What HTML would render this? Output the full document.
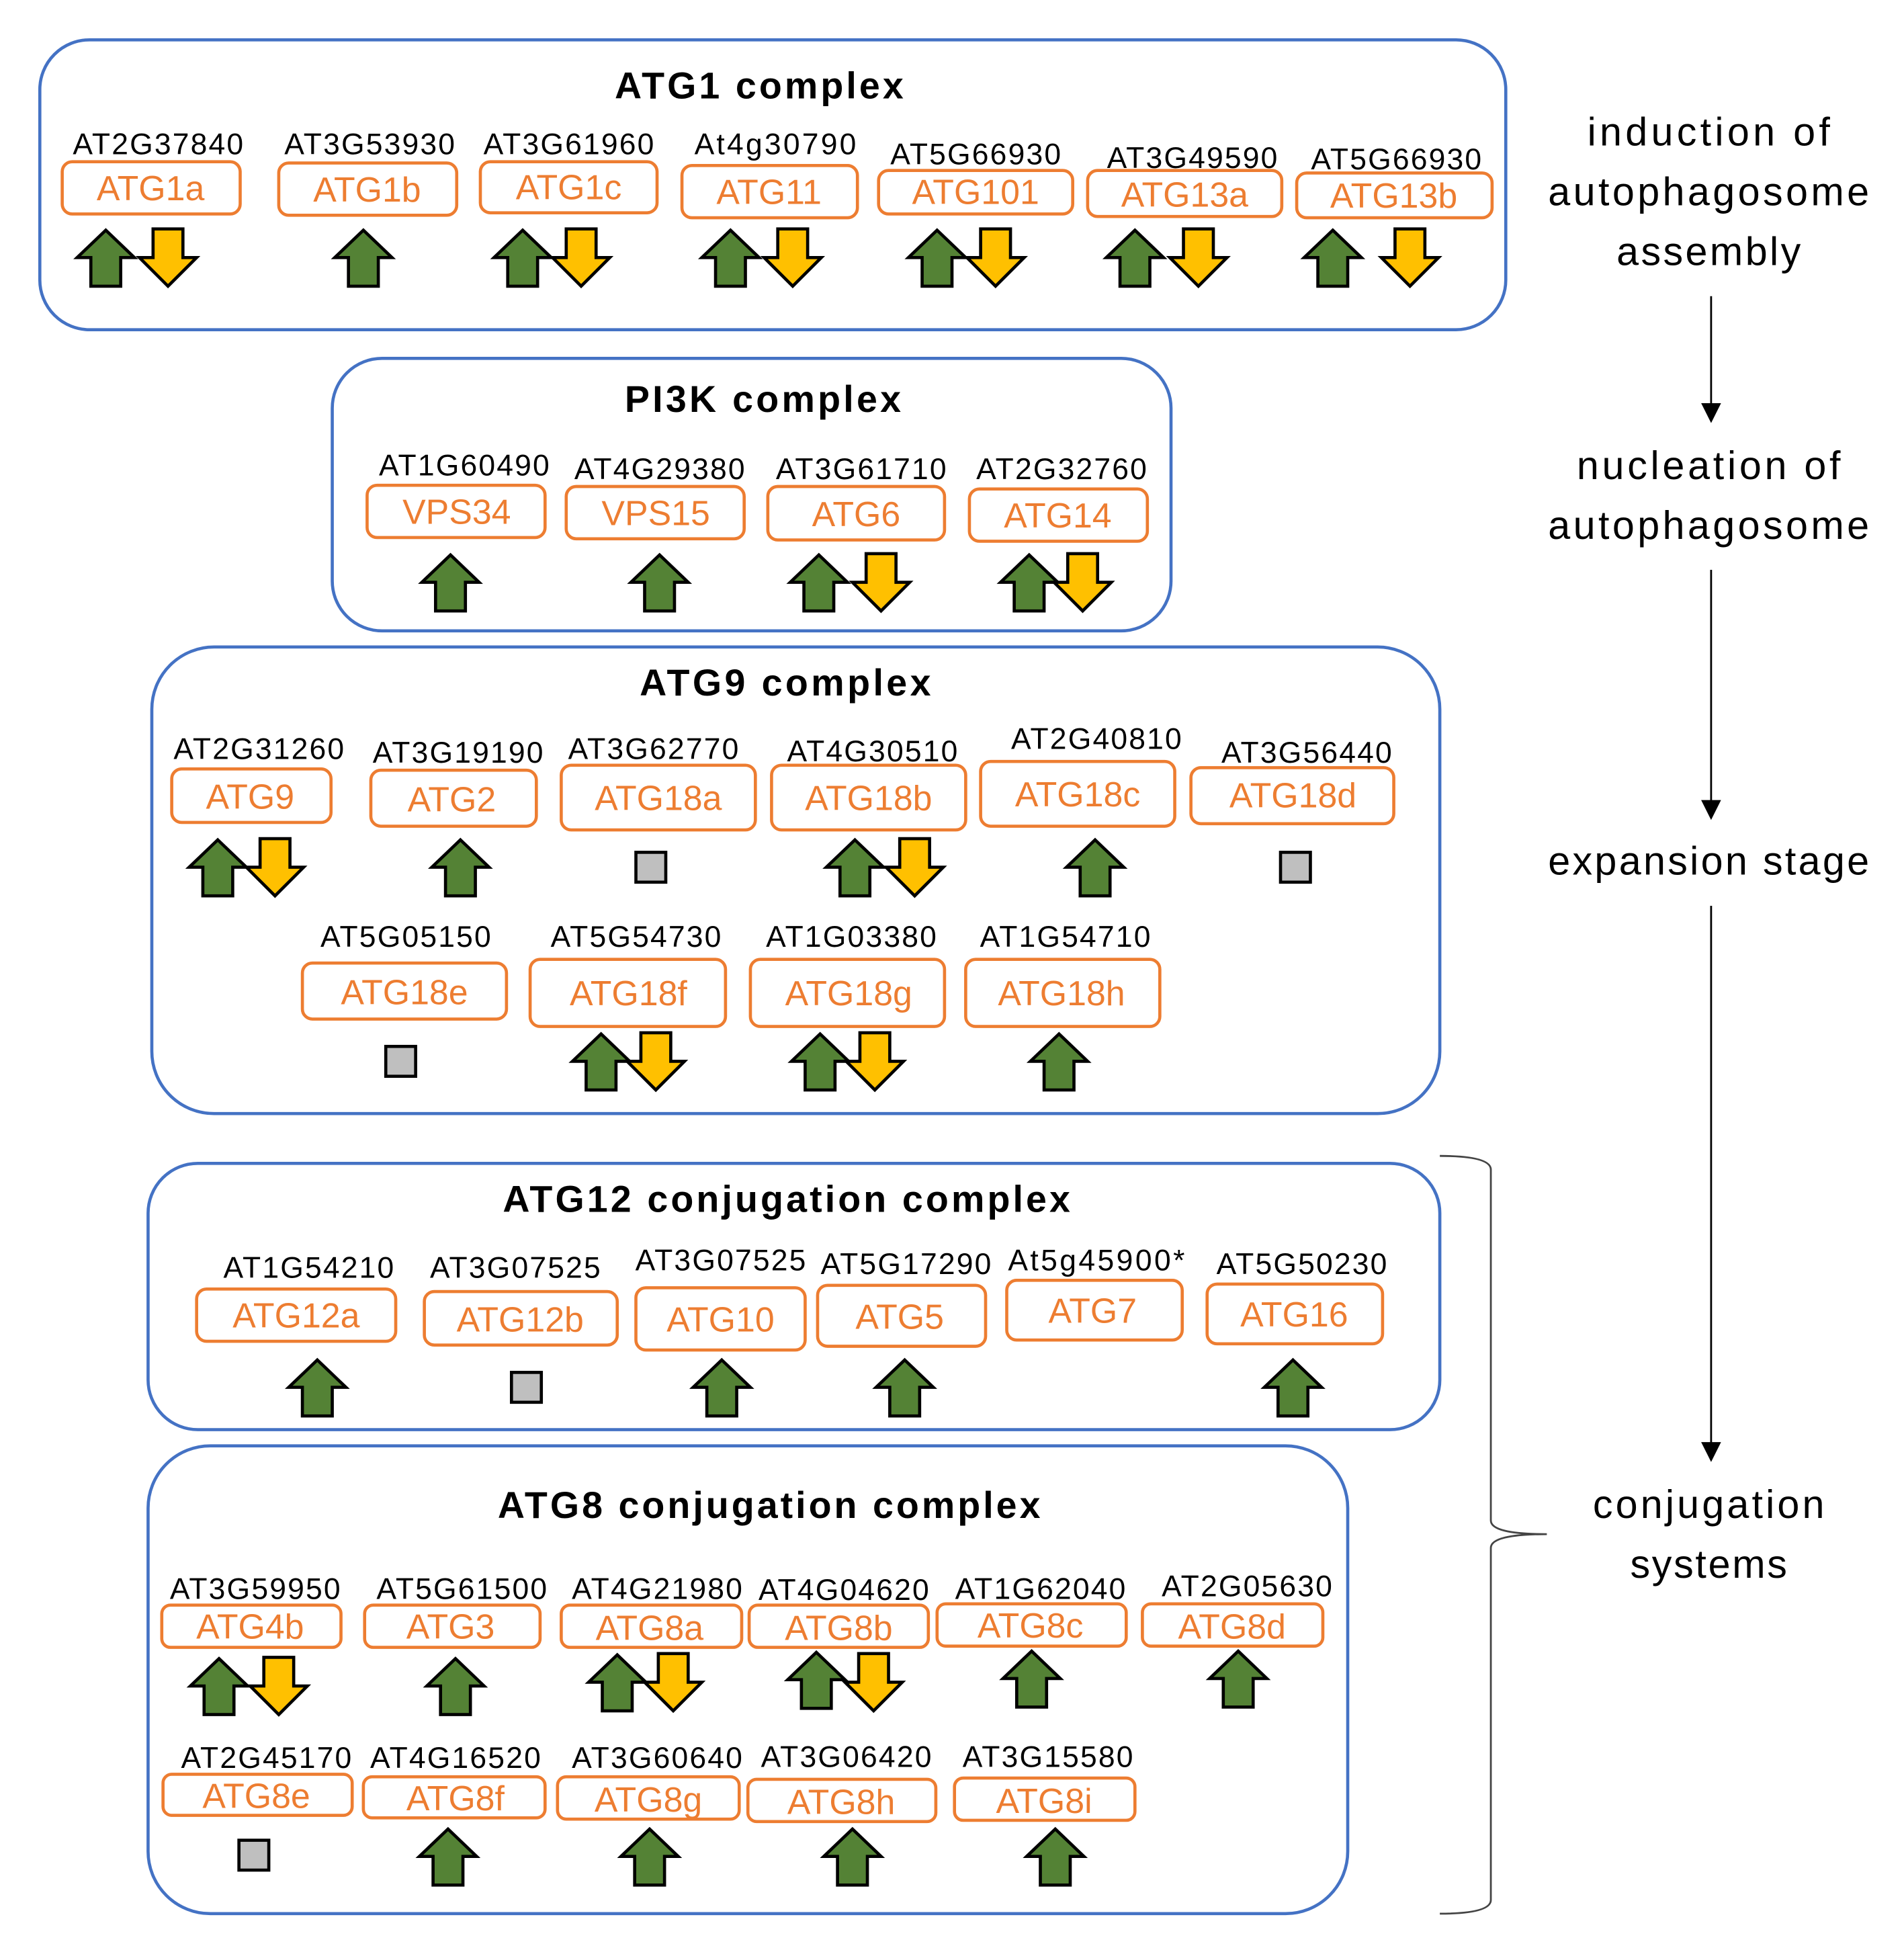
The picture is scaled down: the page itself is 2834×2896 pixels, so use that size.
<!DOCTYPE html>
<html><head><meta charset="utf-8"><style>
html,body{margin:0;padding:0;background:#fff;}
svg{display:block;}
.g{font-family:"Liberation Sans",sans-serif;font-size:24px;fill:#000;text-anchor:middle;}
.o{font-family:"Liberation Sans",sans-serif;font-size:28px;fill:#ED7D31;text-anchor:middle;}
.t{font-family:"Liberation Sans",sans-serif;font-size:30px;font-weight:bold;fill:#000;text-anchor:middle;}
.r{font-family:"Liberation Sans",sans-serif;font-size:32px;fill:#000;text-anchor:middle;}
.cx{fill:#fff;stroke:#4472C4;stroke-width:2.5;}
.ob{fill:#fff;stroke:#ED7D31;stroke-width:2.5;}
.up{fill:#548235;stroke:#000;stroke-width:2.5;}
.dn{fill:#FFC000;stroke:#000;stroke-width:2.5;}
.sq{fill:#BFBFBF;stroke:#000;stroke-width:2.5;}
</style></head><body>
<svg width="2834" height="2896" viewBox="0 0 1530 1564" preserveAspectRatio="none" xmlns="http://www.w3.org/2000/svg">
<defs>
<polygon id="U" class="up" points="0,0 23,22 12,22 12,45 -12,45 -12,22 -23,22"/>
<polygon id="D" class="dn" points="-12,0 12,0 12,23 23,23 0,46 -23,23 -12,23"/>
<rect id="S" class="sq" x="-12" y="-12" width="24" height="24"/>
<marker id="ah" markerWidth="16" markerHeight="16" refX="14" refY="8" orient="auto" markerUnits="userSpaceOnUse"><path d="M0,0 L16,8 L0,16 z" fill="#000"/></marker>
</defs>

<!-- ATG1 complex -->
<rect class="cx" x="32" y="32" width="1178" height="233" rx="40"/>
<text class="t" x="610" y="79" textLength="232">ATG1 complex</text>
<text class="g" x="127" y="124" textLength="137">AT2G37840</text>
<rect class="ob" x="50" y="130" width="143" height="42" rx="8"/><text class="o" x="121" y="161">ATG1a</text>
<text class="g" x="297" y="124" textLength="137">AT3G53930</text>
<rect class="ob" x="224" y="131" width="143" height="42" rx="8"/><text class="o" x="295" y="162">ATG1b</text>
<text class="g" x="457" y="124" textLength="137">AT3G61960</text>
<rect class="ob" x="386" y="130" width="142" height="41" rx="8"/><text class="o" x="457" y="160">ATG1c</text>
<text class="g" x="623" y="124" textLength="130">At4g30790</text>
<rect class="ob" x="548" y="133" width="141" height="42" rx="8"/><text class="o" x="618" y="164">ATG11</text>
<text class="g" x="784" y="132" textLength="137">AT5G66930</text>
<rect class="ob" x="706" y="137" width="156" height="35" rx="8"/><text class="o" x="784" y="164">ATG101</text>
<text class="g" x="958" y="135" textLength="137">AT3G49590</text>
<rect class="ob" x="874" y="137" width="156" height="37" rx="8"/><text class="o" x="952" y="166">ATG13a</text>
<text class="g" x="1122" y="136" textLength="137">AT5G66930</text>
<rect class="ob" x="1042" y="139" width="157" height="36" rx="8"/><text class="o" x="1120" y="167">ATG13b</text>
<use href="#U" x="85" y="185"/><use href="#D" x="135" y="184"/>
<use href="#U" x="292" y="185"/>
<use href="#U" x="420" y="185"/><use href="#D" x="467" y="184"/>
<use href="#U" x="587" y="185"/><use href="#D" x="637" y="184"/>
<use href="#U" x="753" y="185"/><use href="#D" x="800" y="184"/>
<use href="#U" x="912" y="185"/><use href="#D" x="963" y="184"/>
<use href="#U" x="1071" y="185"/><use href="#D" x="1133" y="184"/>

<!-- PI3K -->
<rect class="cx" x="267" y="288" width="674" height="219" rx="40"/>
<text class="t" x="613" y="331" textLength="222">PI3K complex</text>
<text class="g" x="373" y="382" textLength="137">AT1G60490</text>
<rect class="ob" x="295" y="390" width="143" height="42" rx="8"/><text class="o" x="367" y="421">VPS34</text>
<text class="g" x="530" y="385" textLength="137">AT4G29380</text>
<rect class="ob" x="455" y="391" width="143" height="42" rx="8"/><text class="o" x="527" y="422">VPS15</text>
<text class="g" x="692" y="385" textLength="137">AT3G61710</text>
<rect class="ob" x="617" y="391" width="142" height="43" rx="8"/><text class="o" x="688" y="423">ATG6</text>
<text class="g" x="853" y="385" textLength="137">AT2G32760</text>
<rect class="ob" x="779" y="393" width="143" height="42" rx="8"/><text class="o" x="850" y="424">ATG14</text>
<use href="#U" x="362" y="446"/>
<use href="#U" x="530" y="446"/>
<use href="#U" x="658" y="446"/><use href="#D" x="708" y="445"/>
<use href="#U" x="827" y="446"/><use href="#D" x="870" y="445"/>

<!-- ATG9 -->
<rect class="cx" x="122" y="520" width="1035" height="375" rx="50"/>
<text class="t" x="631" y="559" textLength="234">ATG9 complex</text>
<text class="g" x="208" y="610" textLength="137">AT2G31260</text>
<rect class="ob" x="138" y="618" width="128" height="43" rx="8"/><text class="o" x="201" y="650">ATG9</text>
<text class="g" x="368" y="613" textLength="137">AT3G19190</text>
<rect class="ob" x="298" y="619" width="133" height="45" rx="8"/><text class="o" x="363" y="652">ATG2</text>
<text class="g" x="525" y="610" textLength="137">AT3G62770</text>
<rect class="ob" x="451" y="615" width="156" height="52" rx="8"/><text class="o" x="529" y="651">ATG18a</text>
<text class="g" x="701" y="612" textLength="137">AT4G30510</text>
<rect class="ob" x="620" y="615" width="156" height="52" rx="8"/><text class="o" x="698" y="651">ATG18b</text>
<text class="g" x="881" y="602" textLength="137">AT2G40810</text>
<rect class="ob" x="788" y="612" width="156" height="52" rx="8"/><text class="o" x="866" y="648">ATG18c</text>
<text class="g" x="1050" y="613" textLength="137">AT3G56440</text>
<rect class="ob" x="957" y="617" width="163" height="45" rx="8"/><text class="o" x="1039" y="649">ATG18d</text>
<use href="#U" x="175" y="675"/><use href="#D" x="221" y="674"/>
<use href="#U" x="370" y="675"/>
<use href="#S" x="523" y="697"/>
<use href="#U" x="687" y="675"/><use href="#D" x="735" y="674"/>
<use href="#U" x="880" y="675"/>
<use href="#S" x="1041" y="697"/>
<text class="g" x="326" y="761" textLength="137">AT5G05150</text>
<rect class="ob" x="243" y="774" width="164" height="45" rx="8"/><text class="o" x="325" y="807">ATG18e</text>
<text class="g" x="511" y="761" textLength="137">AT5G54730</text>
<rect class="ob" x="426" y="771" width="157" height="54" rx="8"/><text class="o" x="505" y="808">ATG18f</text>
<text class="g" x="684" y="761" textLength="137">AT1G03380</text>
<rect class="ob" x="603" y="771" width="156" height="54" rx="8"/><text class="o" x="682" y="808">ATG18g</text>
<text class="g" x="856" y="761" textLength="137">AT1G54710</text>
<rect class="ob" x="776" y="771" width="156" height="54" rx="8"/><text class="o" x="853" y="808">ATG18h</text>
<use href="#S" x="322" y="853"/>
<use href="#U" x="483" y="831"/><use href="#D" x="527" y="830"/>
<use href="#U" x="659" y="831"/><use href="#D" x="703" y="830"/>
<use href="#U" x="851" y="831"/>

<!-- ATG12 -->
<rect class="cx" x="119" y="935" width="1038" height="214" rx="40"/>
<text class="t" x="632" y="974" textLength="456">ATG12 conjugation complex</text>
<text class="g" x="248" y="1027" textLength="137">AT1G54210</text>
<rect class="ob" x="158" y="1036" width="160" height="42" rx="8"/><text class="o" x="238" y="1067">ATG12a</text>
<text class="g" x="414" y="1027" textLength="137">AT3G07525</text>
<rect class="ob" x="341" y="1038" width="155" height="43" rx="8"/><text class="o" x="418" y="1070">ATG12b</text>
<text class="g" x="579" y="1021" textLength="137">AT3G07525</text>
<rect class="ob" x="511" y="1035" width="136" height="50" rx="8"/><text class="o" x="579" y="1070">ATG10</text>
<text class="g" x="728" y="1024" textLength="137">AT5G17290</text>
<rect class="ob" x="657" y="1033" width="135" height="49" rx="8"/><text class="o" x="723" y="1068">ATG5</text>
<text class="g" x="881" y="1021" textLength="142">At5g45900*</text>
<rect class="ob" x="809" y="1029" width="141" height="48" rx="8"/><text class="o" x="878" y="1063">ATG7</text>
<text class="g" x="1046" y="1024" textLength="137">AT5G50230</text>
<rect class="ob" x="970" y="1032" width="141" height="48" rx="8"/><text class="o" x="1040" y="1066">ATG16</text>
<use href="#U" x="255" y="1093"/>
<use href="#S" x="423" y="1115"/>
<use href="#U" x="580" y="1093"/>
<use href="#U" x="727" y="1093"/>
<use href="#U" x="1039" y="1093"/>

<!-- ATG8 -->
<rect class="cx" x="119" y="1162" width="964" height="376" rx="50"/>
<text class="t" x="618" y="1220" textLength="436">ATG8 conjugation complex</text>
<text class="g" x="205" y="1285" textLength="137">AT3G59950</text>
<rect class="ob" x="130" y="1290" width="144" height="34" rx="7"/><text class="o" x="201" y="1317">ATG4b</text>
<text class="g" x="371" y="1285" textLength="137">AT5G61500</text>
<rect class="ob" x="293" y="1290" width="141" height="34" rx="7"/><text class="o" x="362" y="1317">ATG3</text>
<text class="g" x="528" y="1285" textLength="137">AT4G21980</text>
<rect class="ob" x="451" y="1290" width="145" height="34" rx="7"/><text class="o" x="522" y="1318">ATG8a</text>
<text class="g" x="678" y="1286" textLength="137">AT4G04620</text>
<rect class="ob" x="602" y="1290" width="144" height="34" rx="7"/><text class="o" x="674" y="1318">ATG8b</text>
<text class="g" x="836" y="1285" textLength="137">AT1G62040</text>
<rect class="ob" x="753" y="1289" width="152" height="34" rx="7"/><text class="o" x="828" y="1316">ATG8c</text>
<text class="g" x="1002" y="1283" textLength="137">AT2G05630</text>
<rect class="ob" x="918" y="1289" width="145" height="34" rx="7"/><text class="o" x="990" y="1317">ATG8d</text>
<use href="#U" x="176" y="1333"/><use href="#D" x="224" y="1332"/>
<use href="#U" x="366" y="1333"/>
<use href="#U" x="496" y="1330"/><use href="#D" x="541" y="1329"/>
<use href="#U" x="656" y="1328"/><use href="#D" x="702" y="1329"/>
<use href="#U" x="829" y="1327"/>
<use href="#U" x="995" y="1327"/>
<text class="g" x="214" y="1421" textLength="137">AT2G45170</text>
<rect class="ob" x="131" y="1426" width="152" height="33" rx="7"/><text class="o" x="206" y="1453">ATG8e</text>
<text class="g" x="366" y="1421" textLength="137">AT4G16520</text>
<rect class="ob" x="292" y="1428" width="146" height="33" rx="7"/><text class="o" x="366" y="1455">ATG8f</text>
<text class="g" x="528" y="1421" textLength="137">AT3G60640</text>
<rect class="ob" x="448" y="1428" width="146" height="34" rx="7"/><text class="o" x="521" y="1456">ATG8g</text>
<text class="g" x="680" y="1420" textLength="137">AT3G06420</text>
<rect class="ob" x="601" y="1430" width="151" height="34" rx="7"/><text class="o" x="676" y="1458">ATG8h</text>
<text class="g" x="842" y="1420" textLength="137">AT3G15580</text>
<rect class="ob" x="767" y="1429" width="145" height="34" rx="7"/><text class="o" x="839" y="1457">ATG8i</text>
<use href="#S" x="204" y="1491"/>
<use href="#U" x="360" y="1470"/>
<use href="#U" x="522" y="1470"/>
<use href="#U" x="685" y="1470"/>
<use href="#U" x="848" y="1470"/>

<!-- right side -->
<text class="r" x="1373" y="117" textLength="195">induction of</text>
<text class="r" x="1373" y="165" textLength="258">autophagosome</text>
<text class="r" x="1373" y="213" textLength="148">assembly</text>
<line x1="1375" y1="238" x2="1375" y2="338" stroke="#000" stroke-width="1.5" marker-end="url(#ah)"/>
<text class="r" x="1373" y="385" textLength="212">nucleation of</text>
<text class="r" x="1373" y="433" textLength="258">autophagosome</text>
<line x1="1375" y1="458" x2="1375" y2="657" stroke="#000" stroke-width="1.5" marker-end="url(#ah)"/>
<text class="r" x="1373" y="703" textLength="258">expansion stage</text>
<line x1="1375" y1="728" x2="1375" y2="1173" stroke="#000" stroke-width="1.5" marker-end="url(#ah)"/>
<text class="r" x="1373" y="1220" textLength="186">conjugation</text>
<text class="r" x="1373" y="1268" textLength="126">systems</text>
<path d="M1157,929 Q1198,929 1198,940 L1198,1222 Q1198,1233 1243,1233 Q1198,1233 1198,1244 L1198,1527 Q1198,1538 1157,1538" fill="none" stroke="#444" stroke-width="1.5"/>
</svg>
</body></html>
